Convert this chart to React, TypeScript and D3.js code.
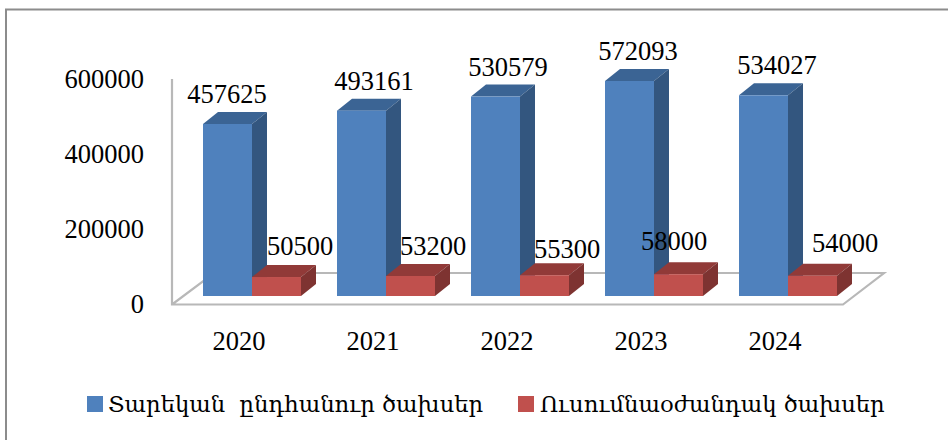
import React from "react";
import * as d3 from "d3";

const years = ["2020", "2021", "2022", "2023", "2024"];
const annualValues = [457625, 493161, 530579, 572093, 534027];
const researchValues = [50500, 53200, 55300, 58000, 54000];
const yTicks = [0, 200000, 400000, 600000];
const seriesNames = ["Տարեկան  ընդհանուր ծախսեր", "Ուսումնաօժանդակ ծախսեր"];

// manual data-label placement of the original, relative to the bar's left edge
const annualLabelDx = [24, 37, 37, 33, 38];
const researchLabelDx = [97, 96, 96, 69, 106];
const researchLabelDy = [-22, -21, -17, -24, -24];

const W = 948, H = 440;
const baseY = 296, dx = 15, dy = -12;
const y = d3.scaleLinear().domain([0, 600000]).range([baseY, 70.5]);
const x = d3.scaleBand().domain(years).range([169, 839]);
const barW = 49;
const FONT = "'Liberation Serif','DejaVu Serif',serif";
const ARM = "'DejaVu Serif','Noto Sans',serif";
const colors = {
  blue: { front: "#4f81bd", top: "#3b6494", side: "#33567f" },
  red: { front: "#c0504d", top: "#913a38", side: "#7e3331" },
};

function Bar3D({ x0, v, c }: { x0: number; v: number; c: typeof colors.blue }) {
  const top = y(v);
  const pts = (a: number[][]) => a.map((p) => p.join(",")).join(" ");
  return (
    <g>
      <polygon points={pts([[x0, top], [x0 + dx, top + dy], [x0 + barW + dx, top + dy], [x0 + barW, top]])} fill={c.top} />
      <polygon points={pts([[x0 + barW, top], [x0 + barW + dx, top + dy], [x0 + barW + dx, baseY + dy], [x0 + barW, baseY]])} fill={c.side} />
      <rect x={x0} y={top} width={barW} height={baseY - top} fill={c.front} />
    </g>
  );
}

export default function App() {
  return (
    <svg width={W} height={H} style={{ position: "absolute", left: 0, top: 0, background: "#fff" }}>
      <path d="M6 440V9.5H948" fill="none" stroke="#8c8c8c" strokeWidth={2} />
      <path d="M172 79V304.5H843L884 273H214L172 304.5" fill="none" stroke="#b8b8b8" strokeWidth={2.2} />
      {yTicks.map((t) => (
        <text key={t} x={144} y={y(t) + 17} textAnchor="end" fontFamily={FONT} fontSize={26.5} fill="#000">{t}</text>
      ))}
      {years.map((yr, i) => {
        const x0 = (x(yr) as number) + 34;
        return (
          <g key={yr}>
            <Bar3D x0={x0} v={annualValues[i]} c={colors.blue} />
            <Bar3D x0={x0 + barW} v={researchValues[i]} c={colors.red} />
            <text x={x0 + annualLabelDx[i]} y={y(annualValues[i]) - 21} textAnchor="middle" fontFamily={FONT} fontSize={26.5} fill="#000">{annualValues[i]}</text>
            <text x={x0 + researchLabelDx[i]} y={y(researchValues[i]) + researchLabelDy[i]} textAnchor="middle" fontFamily={FONT} fontSize={26.5} fill="#000">{researchValues[i]}</text>
            <text x={x0 + 36} y={350} textAnchor="middle" fontFamily={FONT} fontSize={26.5} fill="#000">{yr}</text>
          </g>
        );
      })}
      <rect x={87} y={396} width={16} height={16} fill={colors.blue.front} />
      <text x={108} y={412} fontFamily={ARM} fontSize={22.7} fill="#000" xmlSpace="preserve">{seriesNames[0]}</text>
      <rect x={518} y={396} width={16} height={16} fill={colors.red.front} />
      <text x={540} y={412} fontFamily={ARM} fontSize={22.7} fill="#000">{seriesNames[1]}</text>
    </svg>
  );
}
